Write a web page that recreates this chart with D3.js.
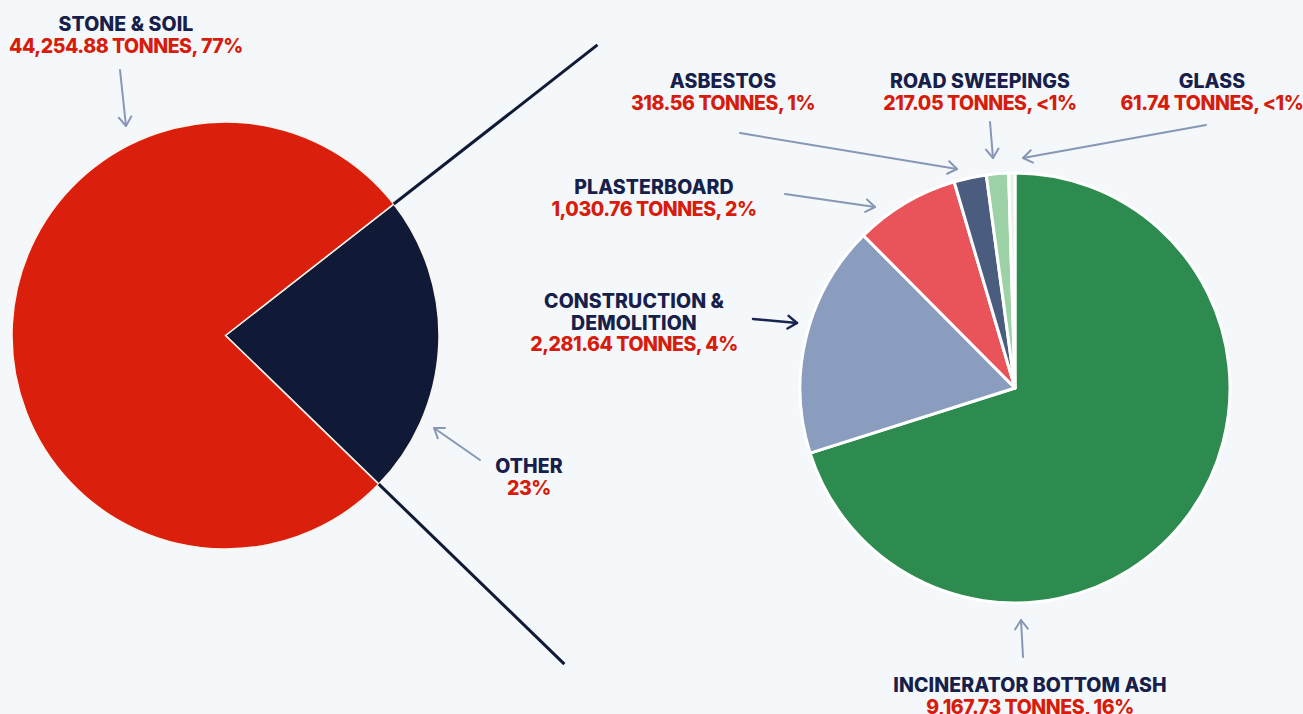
<!DOCTYPE html>
<html>
<head>
<meta charset="utf-8">
<script src="https://cdn.jsdelivr.net/npm/d3@7"></script>
<style>
  html, body { margin: 0; padding: 0; background: #f4f8fa; }
  svg { display: block; }
  text { font-family: Inter, "Open Sans", sans-serif; font-weight: 800; font-size: 19.5px; }
  .title { letter-spacing: 0.1px; }
  .value { letter-spacing: -0.45px; }
</style>
</head>
<body>
<svg id="chart" width="1303" height="714"></svg>
<script>
// Overall split: stone & soil vs. everything else
const mainNames = ["Other", "Stone & Soil"];
const mainTonnes = [13077.48, 44254.88];
const mainColors = ["#101a37", "#da1f0c"];

// Breakdown of the "Other" share
const otherNames = ["Incinerator Bottom Ash", "Construction & Demolition", "Plasterboard", "Asbestos", "Road Sweepings", "Glass"];
const otherTonnes = [9167.73, 2281.64, 1030.76, 318.56, 217.05, 61.74];
const otherColors = ["#2e8b50", "#8b9dbf", "#e9545a", "#4b5d7e", "#9dd2a7", "#e6f2e4"];

// Label text: title lines and value line for each callout
const labelTitles = {
  "Stone & Soil": ["STONE & SOIL"],
  "Other": ["OTHER"],
  "Incinerator Bottom Ash": ["INCINERATOR BOTTOM ASH"],
  "Construction & Demolition": ["CONSTRUCTION &", "DEMOLITION"],
  "Plasterboard": ["PLASTERBOARD"],
  "Asbestos": ["ASBESTOS"],
  "Road Sweepings": ["ROAD SWEEPINGS"],
  "Glass": ["GLASS"]
};
const labelValues = {
  "Stone & Soil": "44,254.88 TONNES, 77%",
  "Other": "23%",
  "Incinerator Bottom Ash": "9,167.73 TONNES, 16%",
  "Construction & Demolition": "2,281.64 TONNES, 4%",
  "Plasterboard": "1,030.76 TONNES, 2%",
  "Asbestos": "318.56 TONNES, 1%",
  "Road Sweepings": "217.05 TONNES, <1%",
  "Glass": "61.74 TONNES, <1%"
};

const svg = d3.select("#chart");
const NAVY = "#17204a", RED = "#d81c0c", ARROW = "#8797b6";
const deg = Math.PI / 180;

// ---- Left pie ----
const leftC = [225.5, 335.5], leftR = 213.5;
const leftPie = d3.pie().sort(null).startAngle(52 * deg).endAngle(412 * deg);
const leftArcs = leftPie(mainTonnes);
const leftArc = d3.arc().innerRadius(0).outerRadius(leftR);
const gL = svg.append("g").attr("transform", `translate(${leftC})`);
gL.selectAll("path").data(leftArcs).join("path")
  .attr("d", leftArc)
  .attr("fill", (d, i) => mainColors[i])
  .attr("stroke", "#fbf4ee").attr("stroke-width", 1.5).attr("stroke-linejoin", "miter");

// Connector lines extending the "Other" wedge edges out towards the breakdown
const otherArc = leftArcs[0];
[otherArc.startAngle, otherArc.endAngle].forEach(a => {
  const p = r => [Math.sin(a) * r, -Math.cos(a) * r];
  gL.append("line")
    .attr("x1", p(leftR)[0]).attr("y1", p(leftR)[1])
    .attr("x2", p(472)[0]).attr("y2", p(472)[1])
    .attr("stroke", "#101a37").attr("stroke-width", 3);
});

// ---- Right pie ----
const rightC = [1015, 388], rightR = 215;
const rightPie = d3.pie().sort(null);
const rightArcs = rightPie(otherTonnes);
const rightArc = d3.arc().innerRadius(0).outerRadius(rightR);
const gR = svg.append("g").attr("transform", `translate(${rightC})`);
gR.selectAll("path").data(rightArcs).join("path")
  .attr("d", rightArc)
  .attr("fill", (d, i) => otherColors[i])
  .attr("stroke", "#ffffff").attr("stroke-width", 3).attr("stroke-linejoin", "round");

// ---- Arrows ----
function arrow(x1, y1, x2, y2, color, w) {
  const ang = Math.atan2(y2 - y1, x2 - x1);
  const h = 11, spread = 35 * deg;
  svg.append("line").attr("x1", x1).attr("y1", y1).attr("x2", x2).attr("y2", y2)
    .attr("stroke", color).attr("stroke-width", w).attr("stroke-linecap", "round");
  const head = d3.path();
  head.moveTo(x2 - h * Math.cos(ang - spread), y2 - h * Math.sin(ang - spread));
  head.lineTo(x2, y2);
  head.lineTo(x2 - h * Math.cos(ang + spread), y2 - h * Math.sin(ang + spread));
  svg.append("path").attr("d", head.toString()).attr("fill", "none")
    .attr("stroke", color).attr("stroke-width", w).attr("stroke-linecap", "round").attr("stroke-linejoin", "round");
}
arrow(120, 70, 126, 126, ARROW, 2);
arrow(480, 460, 434, 428, ARROW, 2);
arrow(740, 133, 957, 169, ARROW, 2);
arrow(990, 122, 993, 158, ARROW, 2);
arrow(1206, 125, 1023, 158, ARROW, 2);
arrow(785, 194, 875, 207, ARROW, 2);
arrow(753, 319, 797, 323, "#1a2450", 2.5);
arrow(1023, 657, 1021, 620, ARROW, 2);

// ---- Labels ----
const labelPos = [
  ["Stone & Soil", 126, 31],
  ["Other", 529, 473],
  ["Asbestos", 723, 88],
  ["Road Sweepings", 980, 88],
  ["Glass", 1212, 88],
  ["Plasterboard", 654, 194],
  ["Construction & Demolition", 634, 308],
  ["Incinerator Bottom Ash", 1030, 692]
];
const lineH = 21.5;
labelPos.forEach(([key, x, y]) => {
  const t = svg.append("text").attr("text-anchor", "middle");
  const titles = labelTitles[key];
  titles.forEach((s, i) => {
    t.append("tspan").attr("class", "title").attr("x", x).attr("y", y + i * lineH).attr("fill", NAVY).text(s);
  });
  t.append("tspan").attr("class", "value").attr("x", x).attr("y", y + titles.length * lineH).attr("fill", RED).text(labelValues[key]);
});
</script>
</body>
</html>
